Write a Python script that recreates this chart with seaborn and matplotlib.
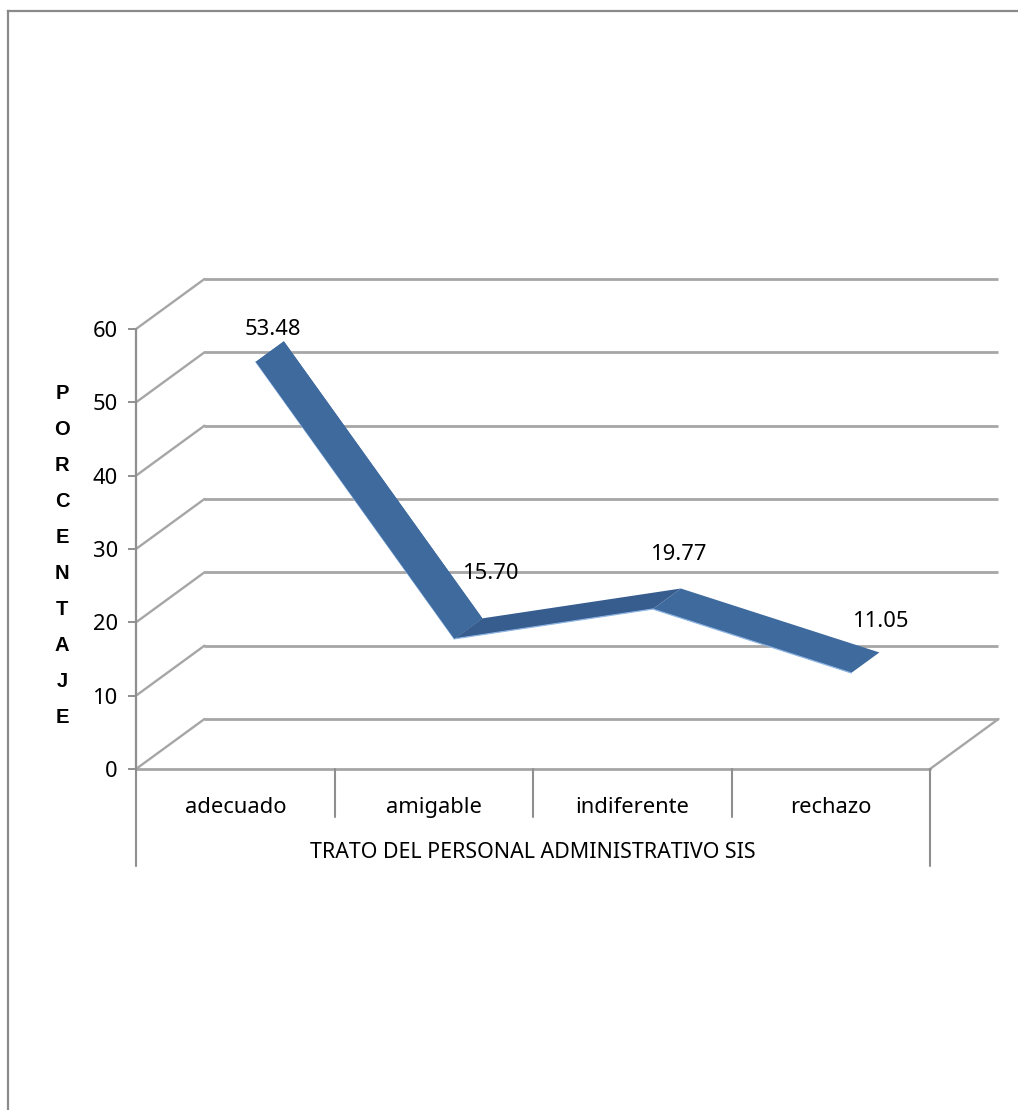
import matplotlib
matplotlib.use("Agg")
import matplotlib.pyplot as plt
import numpy as np
import pandas as pd
import seaborn as sns

# ---- data ----
categories = ["adecuado", "amigable", "indiferente", "rechazo"]
percentages = [53.48, 15.70, 19.77, 11.05]
value_labels = ["53.48", "15.70", "19.77", "11.05"]
y_ticks = [0, 10, 20, 30, 40, 50, 60]
x_title = "TRATO DEL PERSONAL ADMINISTRATIVO SIS"
y_title_letters = list("PORCENTAJE")

# ---- layout / style ----
W, H = 1018, 1110
FONT = "Noto Sans"
FS = 15.8
GRID = "#a6a6a6"
AXIS = "#8f8f8f"
BLUE = "#3e6a9e"
BLUE_DARK = "#375c8e"
EDGE = "#8db4e2"
DX, DY = 0.345, 6.82         # depth of the pseudo 3-D box, in data units
D_FRONT, D_BACK = 0.30, 0.71 # depth range occupied by the ribbon
label_offsets_px = [(38, 47), (57, 80), (47, 70), (50, 66)]

sns.set_theme(style="white")
plt.rcParams["font.family"] = [FONT, "DejaVu Sans"]

fig = plt.figure(figsize=(W / 100, H / 100), dpi=100, facecolor="white")

# outer frame: only top and left edges are visible
bg = fig.add_axes([8 / W, 0, 1 - 8 / W, 1 - 10.5 / H])
bg.set_xticks([]); bg.set_yticks([])
for side in ("right", "bottom"):
    bg.spines[side].set_visible(False)
for side in ("top", "left"):
    bg.spines[side].set_color("#8a8a8a")
    bg.spines[side].set_linewidth(1.6)

# front plane of the 3-D box
L, R, B, T = 136, 930, 769, 329
ax = fig.add_axes([L / W, 1 - B / H, (R - L) / W, (B - T) / H])
ax.patch.set_alpha(0)
ax.set_xlim(-0.5, len(categories) - 0.5)
ax.set_ylim(min(y_ticks), max(y_ticks))
sns.despine(ax=ax, top=True, right=True, left=True, bottom=True)
x_left, x_right = ax.get_xlim()

# back wall gridlines and left wall diagonals
for v in y_ticks:
    ax.plot([x_left + DX, x_right + DX], [v + DY, v + DY], color=GRID, lw=2.0,
            clip_on=False, zorder=1, solid_capstyle="butt")
    ax.plot([x_left, x_left + DX], [v, v + DY], color=GRID, lw=1.7,
            clip_on=False, zorder=1)
# floor: front edge and right diagonal
ax.plot([x_left, x_right], [0, 0], color=GRID, lw=2.0, clip_on=False, zorder=1)
ax.plot([x_right, x_right + DX], [0, DY], color=GRID, lw=1.7, clip_on=False, zorder=1)

# y axis line and ticks
ax.plot([x_left, x_left], [0, max(y_ticks)], color=AXIS, lw=1.6, clip_on=False, zorder=2)
ax.set_yticks(y_ticks)
ax.set_yticklabels([str(t) for t in y_ticks], fontsize=FS, color="black", family=FONT)
ax.tick_params(axis="y", length=6, width=1.4, color=AXIS, pad=7, left=True)

# x axis: category labels and multi-level separators
ax.set_xticks(range(len(categories)))
ax.set_xticklabels(categories, fontsize=FS, color="black", family=FONT)
ax.tick_params(axis="x", length=0, pad=20)
xt = ax.get_xaxis_transform()
level1 = -48 / (B - T)
level2 = -97 / (B - T)
for i in range(1, len(categories)):
    ax.plot([i - 0.5, i - 0.5], [0, level1], transform=xt, color=AXIS, lw=1.5, clip_on=False)
for xv in (x_left, x_right):
    ax.plot([xv, xv], [0, level2], transform=xt, color=AXIS, lw=1.5, clip_on=False)
ax.text(np.mean([x_left, x_right]), -83 / (B - T), x_title, transform=xt, ha="center",
        va="center", fontsize=15.4, color="black", family=FONT)

# y title, stacked letters
for i, ch in enumerate(y_title_letters):
    fig.text(62 / W, 1 - (394 + i * 35.9) / H, ch, ha="center", va="center",
             fontsize=14.5, fontweight="bold", color="black", family="Liberation Sans")

# ribbon
df = pd.DataFrame({"pos": np.arange(len(categories), dtype=float), "value": percentages})
fx = df["pos"] + DX * D_FRONT
fy = df["value"] + DY * D_FRONT
bx = df["pos"] + DX * D_BACK
by = df["value"] + DY * D_BACK
for i in [0, 2, 1]:
    c = BLUE_DARK if i == 1 else BLUE
    ax.fill([fx[i], bx[i], bx[i + 1], fx[i + 1]], [fy[i], by[i], by[i + 1], fy[i + 1]],
            color=c, lw=0, clip_on=False, zorder=3)
sns.lineplot(x=fx, y=fy, ax=ax, color=EDGE, lw=0.9, zorder=4, clip_on=False,
             estimator=None, sort=False)
ax.fill([fx[0], bx[0], bx[1], fx[1]], [fy[0], by[0], by[1], fy[1]],
        color=BLUE, lw=0, clip_on=False, zorder=4.5)
ax.set_xlabel(""); ax.set_ylabel("")

# value labels
for i, (txt, off) in enumerate(zip(value_labels, label_offsets_px)):
    ax.annotate(txt, xy=(i, percentages[i]), xytext=off, textcoords="offset pixels",
                ha="center", va="center", fontsize=FS, color="black", family=FONT,
                annotation_clip=False, zorder=5)

fig.savefig("out.png", dpi=100, facecolor="white")
